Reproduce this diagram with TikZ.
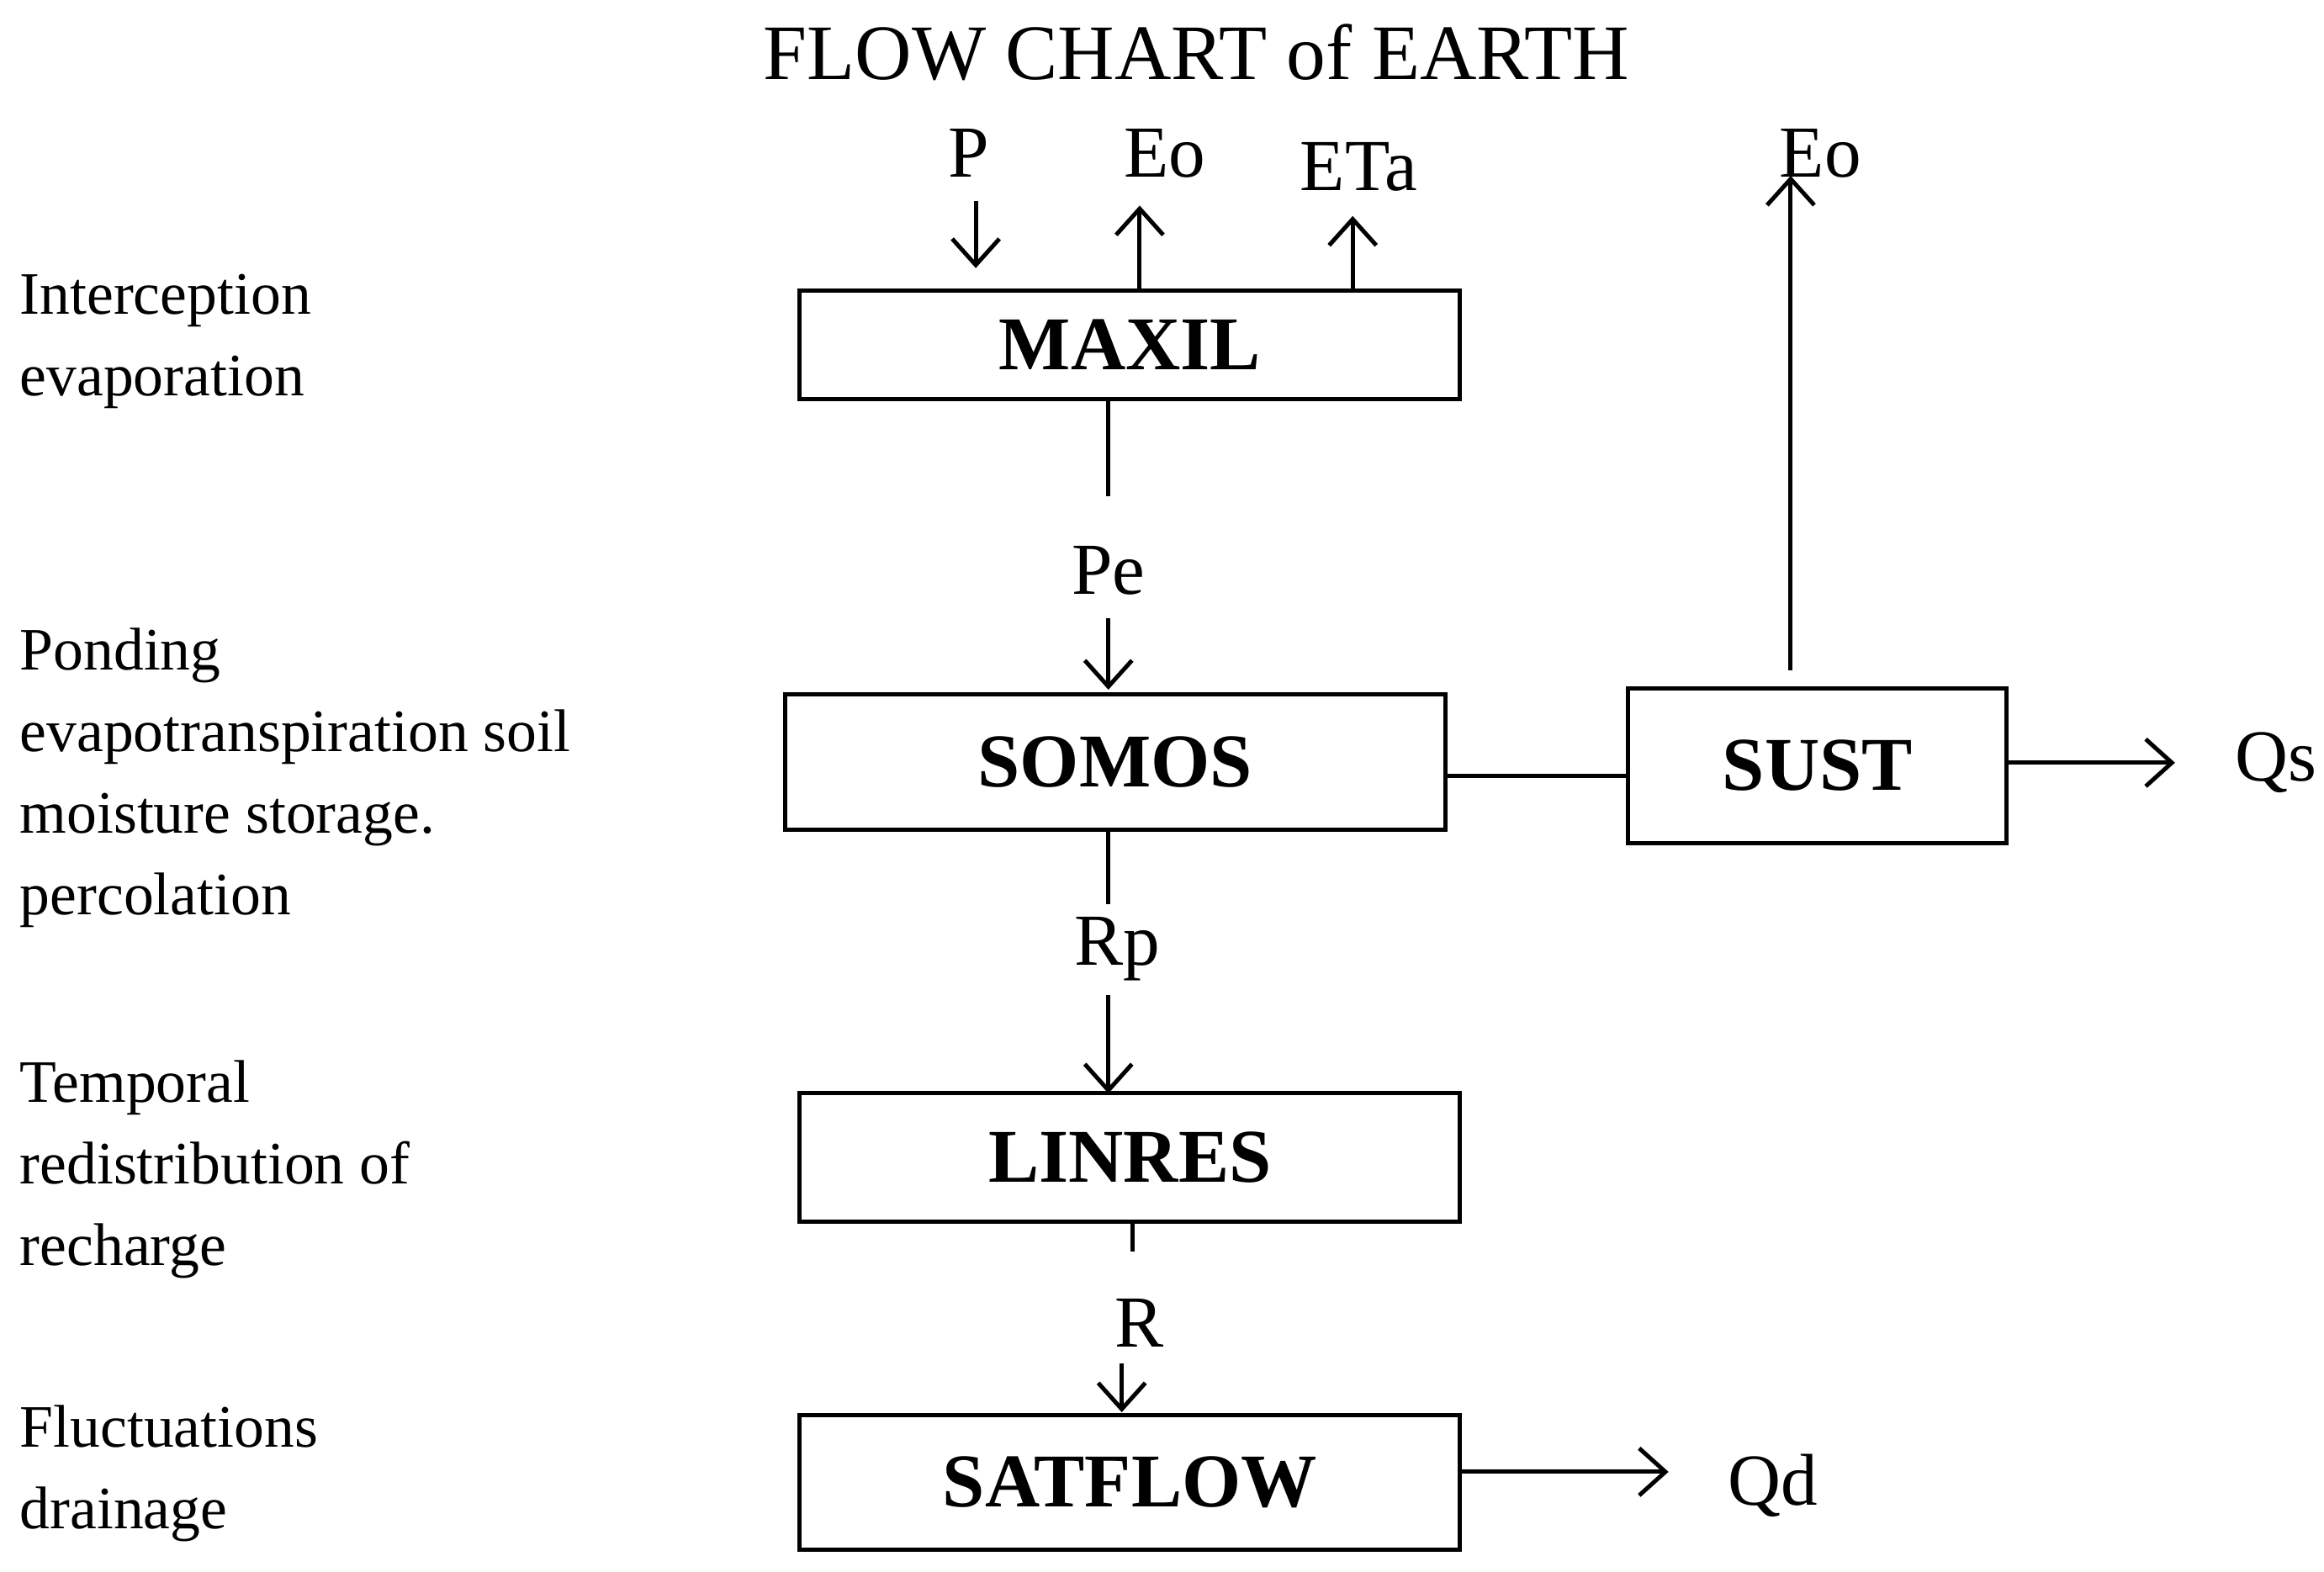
\documentclass[tikz,border=0pt]{standalone}
\usepackage{fontspec}
\setmainfont{Liberation Serif}
\usetikzlibrary{arrows.meta}
\begin{document}
\begin{tikzpicture}[x=0.01cm,y=-0.01cm,line width=0.8pt,
  box/.style={draw,font=\fontsize{14.5}{16}\selectfont\bfseries,inner sep=0},
  lab/.style={font=\fontsize{14}{16}\selectfont,inner sep=0},
  side/.style={font=\fontsize{11.5}{15.6}\selectfont,align=left,anchor=west,inner sep=0},
  arr/.style={-{Straight Barb[length=5pt,width=9pt]}}]
\useasboundingbox (0,0) rectangle (1560,1055);
\node[font=\fontsize{15}{18}\selectfont] (title) at (803,35) {FLOW CHART of EARTH};
\node[box,minimum width=443\pgflinewidth*0+4.43cm,minimum height=0.73cm] (maxil) at (758.5,231.5) {MAXIL};
\node[box,minimum width=4.43cm,minimum height=0.91cm] (somos) at (748.5,511.5) {SOMOS};
\node[box,minimum width=2.54cm,minimum height=1.04cm] (sust) at (1220,514) {SUST};
\node[box,minimum width=4.43cm,minimum height=0.86cm] (linres) at (758.5,777) {LINRES};
\node[box,minimum width=4.43cm,minimum height=0.9cm] (satflow) at (758.5,995) {SATFLOW};
\node[lab] (p) at (650,103) {P};
\node[lab] (eo1) at (782,103) {Eo};
\node[lab] (eta) at (912,112) {ETa};
\node[lab] (eo2) at (1222,103) {Eo};
\node[lab] (pe) at (744,383) {Pe};
\node[lab] (rp) at (750,637) {Rp};
\node[lab] (r) at (765,888) {R};
\node[lab] (qs) at (1528,512) {Qs};
\node[lab] (qd) at (1190,997) {Qd};
\coordinate (p1) at (655,135); \coordinate (p2) at (655,180);
\coordinate (e1) at (765,195); \coordinate (e2) at (765,138);
\coordinate (t1) at (908,195); \coordinate (t2) at (908,145);
\coordinate (s1) at (1202,450); \coordinate (s2) at (1202,118);
\coordinate (m1) at (744,268); \coordinate (m2) at (744,333);
\coordinate (pa) at (744,415); \coordinate (pb) at (744,463);
\coordinate (o1) at (744,557); \coordinate (o2) at (744,607);
\coordinate (ra) at (744,668); \coordinate (rb) at (744,734);
\coordinate (l1) at (760,820); \coordinate (l2) at (760,840);
\coordinate (ga) at (753,915); \coordinate (gb) at (753,948);
\coordinate (qs1) at (1460,512); \coordinate (qd1) at (1120,988);
\draw[arr] (p1) -- (p2);
\draw[arr] (e1) -- (e2);
\draw[arr] (t1) -- (t2);
\draw[arr] (s1) -- (s2);
\draw (m1) -- (m2);
\draw[arr] (pa) -- (pb);
\draw (o1) -- (o2);
\draw[arr] (ra) -- (rb);
\draw (l1) -- (l2);
\draw[arr] (ga) -- (gb);
\draw (somos.east |- 0,521) -- (sust.west |- 0,521);
\draw[arr] (sust.east |- 0,512) -- (qs1);
\draw[arr] (satflow.east |- 0,988) -- (qd1);
\node[side] (t1n) at (12,229) {Interception\\evaporation};
\node[side] (t2n) at (12,522) {Ponding\\evapotranspiration soil\\moisture storage.\\percolation};
\node[side] (t3n) at (12,785) {Temporal\\redistribution of\\recharge};
\node[side] (t4n) at (12,989) {Fluctuations\\drainage};
\end{tikzpicture}
\end{document}
